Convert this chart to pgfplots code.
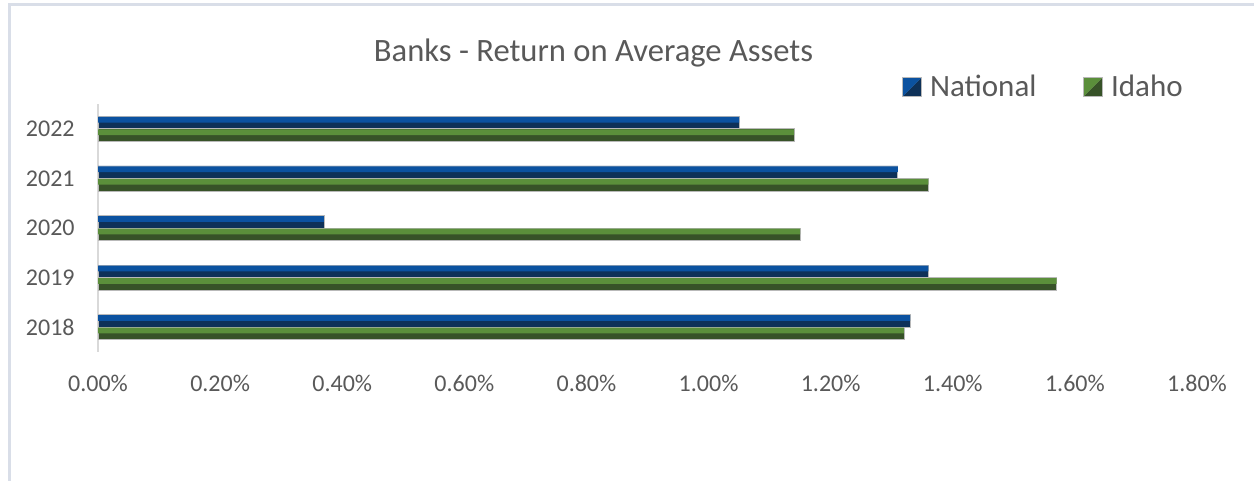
\documentclass[border=0pt]{standalone}
\usepackage{pgfplots}
\pgfplotsset{compat=1.18}
\usepackage{fontspec}
\setmainfont{Carlito}
\definecolor{natlight}{HTML}{0B52A0}
\definecolor{natdark}{HTML}{0E3158}
\definecolor{idalight}{HTML}{5B8F3B}
\definecolor{idadark}{HTML}{375228}
\definecolor{txtgray}{HTML}{595959}
\definecolor{framecol}{HTML}{D9DEE8}
\definecolor{axgray}{HTML}{D9D9D9}

% values in percent, years at 0..4 (2018 at the bottom)
\pgfplotstableread{
y  national idaho
0  1.33     1.32
1  1.36     1.57
2  0.37     1.15
3  1.31     1.36
4  1.05     1.14
}\roadata

\begin{document}
\begin{tikzpicture}
\useasboundingbox (0,0) rectangle (627pt,240.5pt);
\draw[framecol, line width=1.5pt] (4.5pt,0) -- (4.5pt,238pt) -- (627pt,238pt);
\node[txtgray, font=\fontsize{16.3pt}{19pt}\selectfont, anchor=base] at (296.75pt,209.5pt) {Banks - Return on Average Assets};
\begin{axis}[
  at={(49pt,64.5pt)}, anchor=south west,
  scale only axis, width=549.5pt, height=124pt,
  xbar, bar width=6.25pt,
  xmin=0, xmax=1.8, ymin=-0.5, ymax=4.5,
  xtick={0,0.2,...,1.8},
  xticklabel={\pgfmathprintnumber[fixed,fixed zerofill,precision=2]{\tick}\%},
  /pgf/number format/assume math mode=true,
  ytick={0,1,2,3,4},
  yticklabels={2018,2019,2020,2021,2022},
  major tick length=0pt,
  axis lines*=left,
  separate axis lines,
  x axis line style={draw=none},
  y axis line style={draw=axgray, line width=1pt, -},
  tick label style={font=\fontsize{12pt}{14pt}\selectfont, text=txtgray, inner sep=0pt},
  xticklabel style={yshift=-11.5pt},
  yticklabel style={xshift=-11.5pt},
  legend style={at={(0.7316,1.0685)}, anchor=west, draw=none, fill=none,
    inner sep=0pt, legend columns=2,
    nodes={inner sep=0pt, text=txtgray, font=\fontsize{15.5pt}{18pt}\selectfont},
    /tikz/every odd column/.append style={column sep=4pt},
    /tikz/every even column/.append style={column sep=23.5pt}},
  legend cell align=left,
]
% full bars (dark lower face) with outline
\addplot[fill=natdark, draw=gray!55, line width=0.4pt, bar shift=3.125pt,
  legend image code/.code={
    \fill[fill=natlight, draw=none] (0pt,-4.75pt) -- (0pt,4.75pt) -- (9.5pt,4.75pt) -- cycle;
    \fill[fill=natdark, draw=none] (0pt,-4.75pt) -- (9.5pt,-4.75pt) -- (9.5pt,4.75pt) -- cycle;
    \draw[draw=gray!55, fill=none, line width=0.3pt] (0pt,-4.75pt) rectangle (9.5pt,4.75pt);}]
  table[x=national, y=y] {\roadata};
\addlegendentry{National}
\addplot[fill=idadark, draw=gray!55, line width=0.4pt, bar shift=-3.125pt,
  legend image code/.code={
    \fill[fill=idalight, draw=none] (0pt,-4.75pt) -- (0pt,4.75pt) -- (9.5pt,4.75pt) -- cycle;
    \fill[fill=idadark, draw=none] (0pt,-4.75pt) -- (9.5pt,-4.75pt) -- (9.5pt,4.75pt) -- cycle;
    \draw[draw=gray!55, fill=none, line width=0.3pt] (0pt,-4.75pt) rectangle (9.5pt,4.75pt);}]
  table[x=idaho, y=y] {\roadata};
\addlegendentry{Idaho}
% lighter upper face of each bar
\addplot[forget plot, fill=natlight, draw=none, bar width=2.9pt, bar shift=4.55pt]
  table[x=national, y=y] {\roadata};
\addplot[forget plot, fill=idalight, draw=none, bar width=2.9pt, bar shift=-1.7pt]
  table[x=idaho, y=y] {\roadata};
\end{axis}
\end{tikzpicture}
\end{document}
